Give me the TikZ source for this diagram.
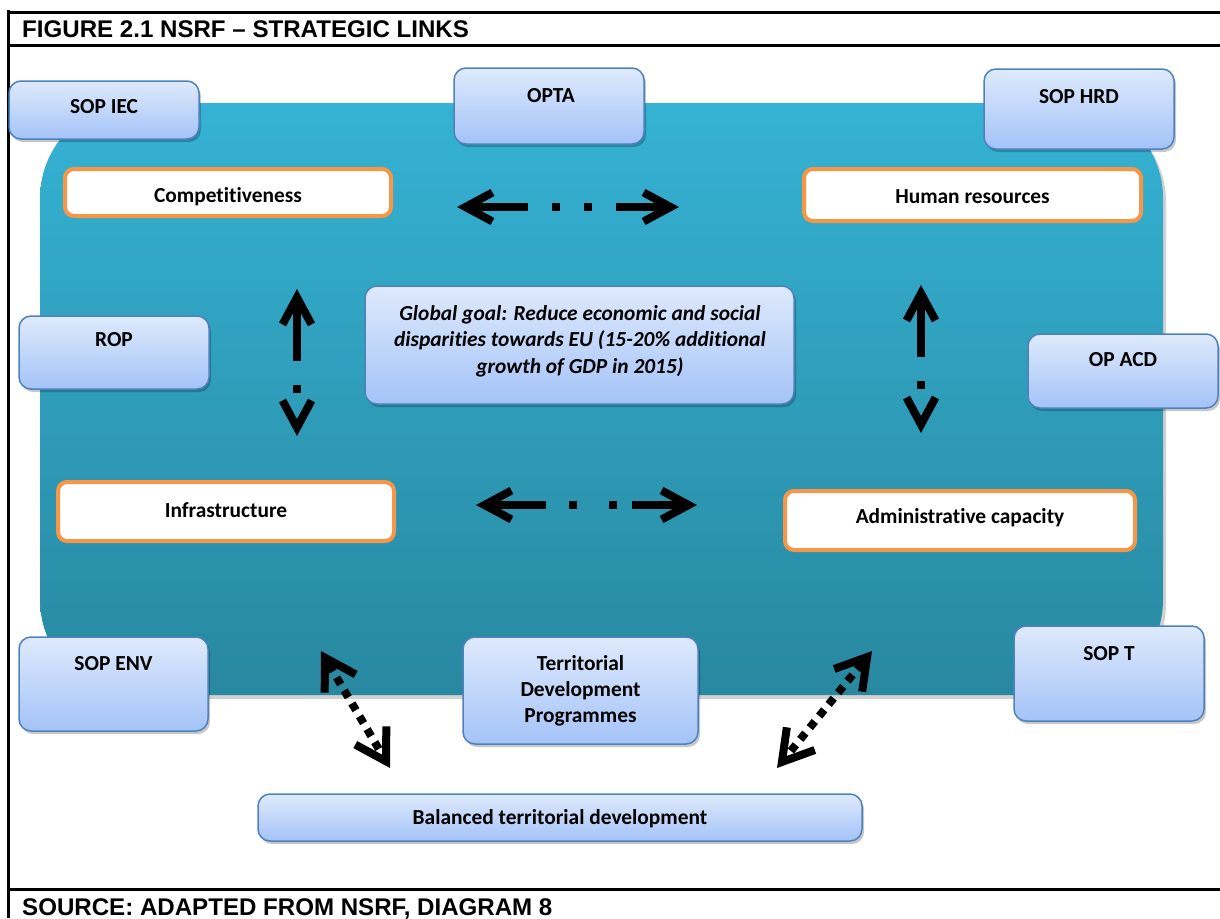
\documentclass[tikz,border=0pt]{standalone}
\usepackage{fontspec}
\setmainfont{Carlito}[Ligatures=CommonOff]
\newfontfamily\arialfont{Liberation Sans}
\usetikzlibrary{arrows.meta,shadows}
\definecolor{boxline}{RGB}{79,129,189}
\definecolor{boxtop}{RGB}{222,234,252}
\definecolor{boxbot}{RGB}{164,195,248}
\definecolor{orangeline}{RGB}{247,150,70}
\definecolor{bluetop}{RGB}{53,178,212}
\definecolor{bluebot}{RGB}{40,136,160}
\tikzset{
  pbox/.style={draw=boxline, line width=1.5pt, rounded corners=12pt, top color=boxtop, bottom color=boxbot,
    drop shadow={shadow xshift=2pt, shadow yshift=-3pt, fill=black, opacity=0.22}, inner sep=0pt},
  obox/.style={draw=orangeline, line width=4pt, rounded corners=9pt, fill=white, inner sep=0pt},
  btext/.style={font=\bfseries\fontsize{21.4}{26}\selectfont, align=center, inner sep=0pt},
  gtext/.style={font=\bfseries\itshape\fontsize{21.4}{26.5}\selectfont, align=center, inner sep=0pt},
  ftext/.style={font=\arialfont\bfseries\fontsize{24.1}{28}\selectfont, inner sep=0pt, anchor=base west},
  frame/.style={line width=3pt, black},
  bigarrow/.style={line width=8pt, {Straight Barb[length=27pt,width=29pt]}-{Straight Barb[length=27pt,width=29pt]}},
  diagarrow/.style={line width=8pt, {Straight Barb[length=30pt,width=36pt]}-{Straight Barb[length=30pt,width=36pt]}},
}
\begin{document}
\begin{tikzpicture}[x=1pt,y=-1pt]
\useasboundingbox (0,0) rectangle (1220,918);
\fill[white] (0,0) rectangle (1220,918);

% frame
\draw[frame] (8,10) -- (8,918);
\draw[frame] (6.5,12) -- (1220,12);
\draw[frame] (6.5,45) -- (1220,45);
\draw[frame] (6.5,889) -- (1220,889);
\node[ftext] (title) at (22,37.5) {FIGURE 2.1 NSRF – STRATEGIC LINKS};
\node[ftext] (source) at (22,915) {SOURCE: ADAPTED FROM NSRF, DIAGRAM 8};

% big blue background
\fill[black!18, rounded corners=95pt] (43,107) rectangle (1166,699);
\shade[top color=bluetop, bottom color=bluebot, rounded corners=95pt] (40,103) rectangle (1163,695);

% orange boxes
\node[obox, minimum width=326pt, minimum height=47pt] (comp) at (228,192.5) {};
\node[btext] at (228,197) {Competitiveness};
\node[obox, minimum width=337pt, minimum height=52pt] (hr) at (972.5,195) {};
\node[btext] at (972.5,197) {Human resources};
\node[obox, minimum width=336pt, minimum height=59pt] (infra) at (226,511.5) {};
\node[btext] at (226,510) {Infrastructure};
\node[obox, minimum width=350pt, minimum height=59pt] (admin) at (960,520.5) {};
\node[btext] at (960,518) {Administrative capacity};

% programme boxes
\node[pbox, minimum width=190pt, minimum height=58pt] (sopiec) at (104,110) {};
\node[btext] at (104,107) {SOP IEC};
\node[pbox, minimum width=190pt, minimum height=76pt] (opta) at (549,106) {};
\node[btext] at (551,96) {OPTA};
\node[pbox, minimum width=190pt, minimum height=80pt] (sophrd) at (1079,109) {};
\node[btext] at (1079,97) {SOP HRD};
\node[pbox, minimum width=190pt, minimum height=73pt] (rop) at (114,352.5) {};
\node[btext] at (114,340) {ROP};
\node[pbox, minimum width=190pt, minimum height=74pt] (opacd) at (1123,371) {};
\node[btext] at (1123,360) {OP ACD};
\node[pbox, minimum width=189pt, minimum height=94pt] (sopenv) at (113.5,684) {};
\node[btext] at (113.5,664) {SOP ENV};
\node[pbox, minimum width=235pt, minimum height=107pt] (tdp) at (580.5,690.5) {};
\node[btext] at (580.5,691) {Territorial\\Development\\Programmes};
\node[pbox, minimum width=190pt, minimum height=95pt] (sopt) at (1109,673.5) {};
\node[btext] at (1109,654) {SOP T};
\node[pbox, minimum width=604pt, minimum height=47pt] (btd) at (560,817.5) {};
\node[btext] at (560,819) {Balanced territorial development};
\node[pbox, minimum width=429pt, minimum height=118pt] (goal) at (579.5,345) {};
\node[gtext] at (580,341) {Global goal: Reduce economic and social\\disparities towards EU (15-20\% additional\\growth of GDP in 2015)};

% arrow end points
\coordinate (th1) at (457,207); \coordinate (th2) at (679,207);
\coordinate (bh1) at (476,505); \coordinate (bh2) at (697,505);
\coordinate (lv1) at (297,289); \coordinate (lv2) at (297,436);
\coordinate (rv1) at (921,285); \coordinate (rv2) at (921,433);
\coordinate (ld1) at (321,651); \coordinate (ld2) at (390,768);
\coordinate (rd1) at (872,651); \coordinate (rd2) at (777,768);

\draw[bigarrow, dash pattern=on 59pt off 24pt on 8pt off 24pt on 8pt off 24pt on 120pt] (th1) -- (th2);
\draw[bigarrow, dash pattern=on 58pt off 23pt on 8pt off 32pt on 8pt off 15pt on 120pt] (bh1) -- (bh2);
\draw[bigarrow, dash pattern=on 60pt off 24pt on 8pt off 100pt] (lv1) -- (lv2);
\draw[bigarrow, dash pattern=on 60pt off 24pt on 8pt off 100pt] (rv1) -- (rv2);
\draw[diagarrow, dash pattern=on 8pt off 7pt, dash phase=-4pt] (ld1) -- (ld2);
\draw[diagarrow, dash pattern=on 8pt off 7pt, dash phase=-4pt] (rd1) -- (rd2);
\end{tikzpicture}
\end{document}
